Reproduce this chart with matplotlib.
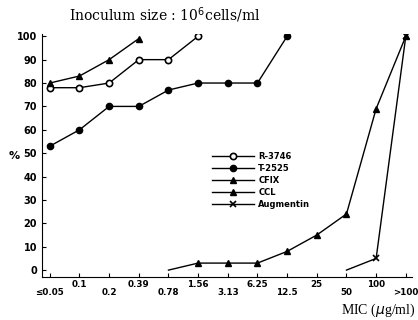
import matplotlib
matplotlib.use("Agg")
import matplotlib.pyplot as plt

categories = ["≤0.05", "0.1", "0.2", "0.39", "0.78", "1.56", "3.13",
              "6.25", "12.5", "25", "50", "100", ">100"]
r3746 = [78, 78, 80, 90, 90, 100]
t2525 = [53, 60, 70, 70, 77, 80, 80, 80, 100]
cfix = [80, 83, 90, 99]
ccl_x = [4, 5, 6, 7, 8, 9, 10, 11, 12]
ccl = [0, 3, 3, 3, 8, 15, 24, 69, 100]
aug_x = [10, 11, 12]
aug = [0, 5, 100]

fig = plt.figure(figsize=(4.18, 3.2), dpi=100)
ax = fig.add_axes([0.10, 0.134, 0.885, 0.76])

kw = dict(color="black", lw=1.0, markersize=4.5)
ax.plot(range(len(r3746)), r3746, marker="o", mfc="white", mew=1.2,
        label="R-3746", **kw)
ax.plot(range(len(t2525)), t2525, marker="o", label="T-2525", **kw)
ax.plot(range(len(cfix)), cfix, marker="^", label="CFIX", **kw)
ax.plot(ccl_x, ccl, marker="^", markevery=list(range(1, len(ccl))),
        label="CCL", **kw)
ax.plot(aug_x, aug, marker="x", mew=1.2, markevery=[1, 2],
        label="Augmentin", **kw)

ax.set_xlim(-0.27, 12.2)
ax.set_ylim(-3, 101)
ax.set_yticks(range(0, 101, 10))
ax.set_xticks(range(len(categories)))
ax.set_xticklabels([])
for i, lab in enumerate(categories):
    off = -0.045 if i % 2 == 0 else -0.012
    ax.text(i, off, lab, transform=ax.get_xaxis_transform(), ha="center",
            va="top", fontsize=6.3, fontweight="bold")
for s in ["top", "right"]:
    ax.spines[s].set_visible(False)
ax.tick_params(direction="in", length=3, labelsize=7)
for t in ax.get_yticklabels():
    t.set_fontweight("bold")

ax.text(-0.075, 0.5, "%", transform=ax.transAxes, fontsize=8,
        fontweight="bold", ha="center", va="center")
fig.text(0.815, 0.02, "MIC ($\\mu$g/ml)", fontsize=10,
         family="Liberation Serif")
fig.text(0.165, 0.935, "Inoculum size : 10$^6$cells/ml", fontsize=10,
         family="DejaVu Serif")

leg = ax.legend(loc="upper left", bbox_to_anchor=(0.45, 0.53), frameon=False,
                fontsize=6, handlelength=5, labelspacing=0.35,
                handletextpad=0.5, borderpad=0)
for t in leg.get_texts():
    t.set_fontweight("bold")

fig.savefig("out.png", dpi=100)
